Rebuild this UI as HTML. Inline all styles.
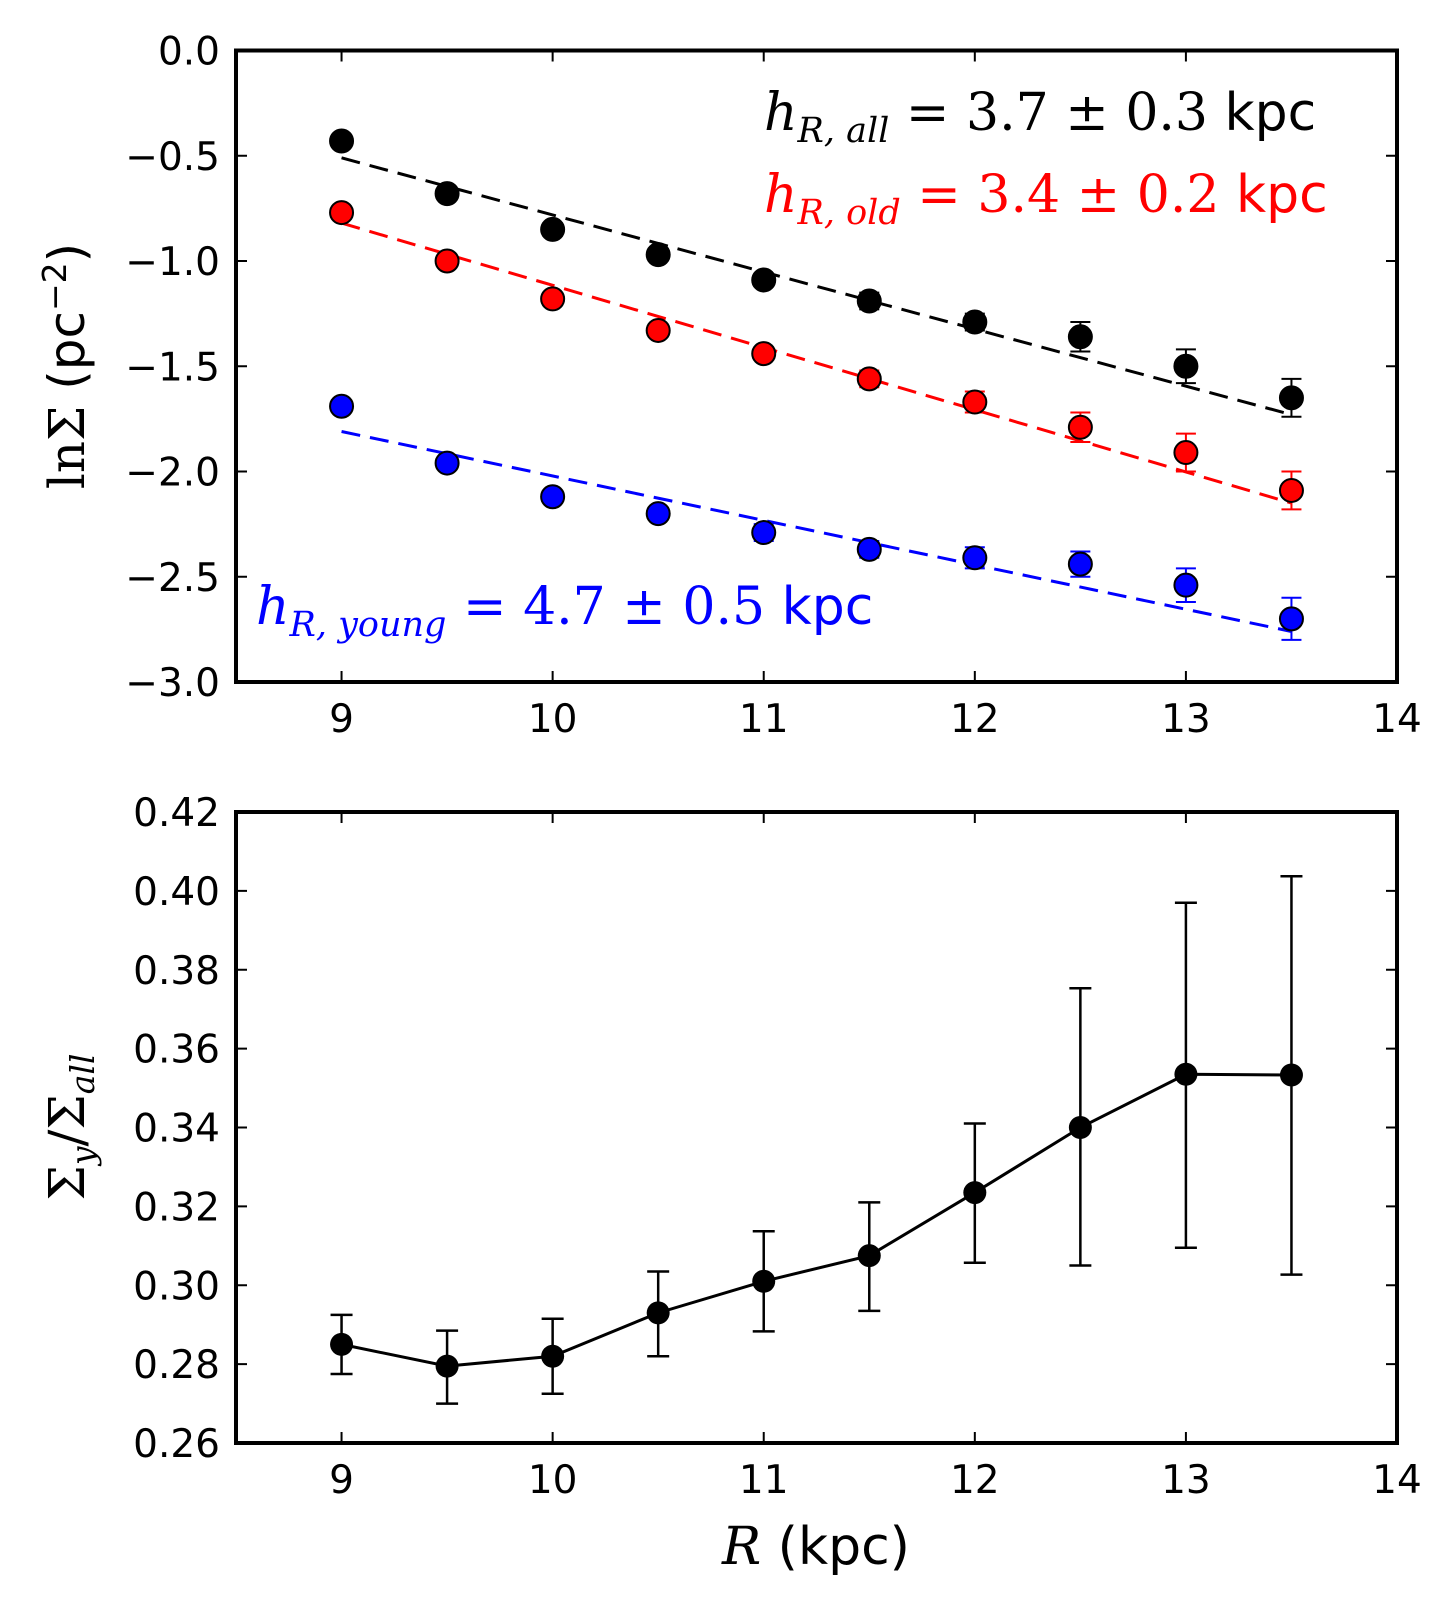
<!DOCTYPE html>
<html><head><meta charset="utf-8"><style>
body{margin:0;background:#fff}
text{font-family:"DejaVu Sans","Liberation Sans",sans-serif}
.m{font-family:"DejaVu Serif","Liberation Serif",serif;font-style:italic}
.n{font-family:"DejaVu Serif","Liberation Serif",serif;font-style:normal}
</style></head><body>
<svg id="c" width="1454" height="1613" xmlns="http://www.w3.org/2000/svg"></svg>
<script>
const radii=[9,9.5,10,10.5,11,11.5,12,12.5,13,13.5];
const allVals=[-0.43,-0.68,-0.85,-0.97,-1.09,-1.19,-1.29,-1.36,-1.50,-1.65];
const allErr=[0.02,0.02,0.03,0.03,0.03,0.04,0.04,0.07,0.08,0.09];
const oldVals=[-0.77,-1.00,-1.18,-1.33,-1.44,-1.56,-1.67,-1.79,-1.91,-2.09];
const oldErr=[0.02,0.02,0.03,0.03,0.03,0.04,0.05,0.07,0.09,0.09];
const youngVals=[-1.69,-1.96,-2.12,-2.20,-2.29,-2.37,-2.41,-2.44,-2.54,-2.70];
const youngErr=[0.02,0.03,0.03,0.03,0.04,0.04,0.05,0.06,0.08,0.10];
const allFit=[-0.51,-1.73];
const oldFit=[-0.82,-2.15];
const youngFit=[-1.81,-2.76];
const ratioVals=[0.285,0.2795,0.282,0.293,0.301,0.3075,0.3235,0.340,0.3535,0.3533];
const ratioHi=[0.2925,0.2885,0.2915,0.3035,0.3137,0.321,0.341,0.3753,0.397,0.4037];
const ratioLo=[0.2775,0.270,0.2725,0.282,0.2883,0.2935,0.3057,0.305,0.3095,0.3027];
const xTicks=[9,10,11,12,13,14];
const yTicksTop=[0,-0.5,-1,-1.5,-2,-2.5,-3];
const yTicksBot=[0.26,0.28,0.30,0.32,0.34,0.36,0.38,0.40,0.42];

const svg=document.getElementById('c');const NS='http://www.w3.org/2000/svg';
function el(t,a,p){const e=document.createElementNS(NS,t);for(const k in a)e.setAttribute(k,a[k]);(p||svg).appendChild(e);return e;}
const L=236,R=1397,T1=50.5,B1=682,T2=812,B2=1443;
const X=v=>L+(v-8.5)*((R-L)/5.5);
const Yt=v=>T1+(0-v)*((B1-T1)/3);
const Yb=v=>B2-(v-0.26)*((B2-T2)/0.16);

function axes(top,bot,ticks,Y,fmt,name){
  const g=el('g',{});
  
  
  el('rect',{x:L,y:top,width:R-L,height:bot-top,fill:'none',stroke:'#000','stroke-width':4},g);
  xTicks.forEach(t=>{const x=X(t);
    el('line',{x1:x,x2:x,y1:bot,y2:bot-11,stroke:'#000','stroke-width':2},g);
    el('line',{x1:x,x2:x,y1:top,y2:top+11,stroke:'#000','stroke-width':2},g);
    const tx=el('text',{x:x,y:bot+50,'font-size':39,'text-anchor':'middle'},g);tx.textContent=t;
    
    });
  ticks.forEach(t=>{const y=Y(t);
    el('line',{x1:L,x2:L+11,y1:y,y2:y,stroke:'#000','stroke-width':2},g);
    el('line',{x1:R,x2:R-11,y1:y,y2:y,stroke:'#000','stroke-width':2},g);
    const tx=el('text',{x:L-16,y:y+14,'font-size':39,'text-anchor':'end'},g);tx.textContent=fmt(t);
    
    });
}
axes(T1,B1,yTicksTop,Yt,t=>(t<0?'\u2212':'')+Math.abs(t).toFixed(1),'top-axes');
axes(T2,B2,yTicksBot,Yb,t=>t.toFixed(2),'bottom-axes');

function series(vals,errs,fit,color,name){
  const g=el('g',{});
  
  
  const fl=el('line',{x1:X(9),y1:Yt(fit[0]),x2:X(13.5),y2:Yt(fit[1]),stroke:color,'stroke-width':3,'stroke-dasharray':'19,10'},g);
  
  
  radii.forEach((r,i)=>{const x=X(r);
    el('line',{x1:x,x2:x,y1:Yt(vals[i]+errs[i]),y2:Yt(vals[i]-errs[i]),stroke:color,'stroke-width':2},g);
    el('line',{x1:x-10,x2:x+10,y1:Yt(vals[i]+errs[i]),y2:Yt(vals[i]+errs[i]),stroke:color,'stroke-width':2},g);
    el('line',{x1:x-10,x2:x+10,y1:Yt(vals[i]-errs[i]),y2:Yt(vals[i]-errs[i]),stroke:color,'stroke-width':2},g);
    const c=el('circle',{cx:x,cy:Yt(vals[i]),r:11.5,fill:color,stroke:'#000','stroke-width':2},g);
    
    });
}
series(allVals,allErr,allFit,'#000','all-series');
series(oldVals,oldErr,oldFit,'#f00','old-series');
series(youngVals,youngErr,youngFit,'#00f','young-series');

function label(x,y,color,sub,val,name){
  const t=el('text',{x:x,y:y,fill:color,'font-size':52});
  
  
  t.innerHTML='<tspan class="m">h</tspan><tspan class="m" font-size="35" dy="12">R, '+sub+'</tspan><tspan class="n" dy="-12"> = '+val+'</tspan><tspan> kpc</tspan>';
}
label(764,130,'#000','all','3.7 \u00b1 0.3','label-all');
label(764,212,'#f00','old','3.4 \u00b1 0.2','label-old');
label(256,624,'#00f','young','4.7 \u00b1 0.5','label-young');

const yl=el('text',{x:0,y:0,'font-size':50,'text-anchor':'middle',transform:'translate(84,366) rotate(-90)'});


yl.innerHTML='<tspan class="n">ln\u03a3</tspan> (pc<tspan font-size="33" dy="-18">\u22122</tspan><tspan dy="18">)</tspan>';

const gb=el('g',{});


el('polyline',{points:radii.map((r,i)=>X(r)+','+Yb(ratioVals[i])).join(' '),fill:'none',stroke:'#000','stroke-width':3},gb);
radii.forEach((r,i)=>{const x=X(r);
  el('line',{x1:x,x2:x,y1:Yb(ratioHi[i]),y2:Yb(ratioLo[i]),stroke:'#000','stroke-width':2.5},gb);
  el('line',{x1:x-11,x2:x+11,y1:Yb(ratioHi[i]),y2:Yb(ratioHi[i]),stroke:'#000','stroke-width':2.5},gb);
  el('line',{x1:x-11,x2:x+11,y1:Yb(ratioLo[i]),y2:Yb(ratioLo[i]),stroke:'#000','stroke-width':2.5},gb);
  const c=el('circle',{cx:x,cy:Yb(ratioVals[i]),r:11.5,fill:'#000'},gb);
  
  });

const yl2=el('text',{x:0,y:0,'font-size':50,'text-anchor':'middle',transform:'translate(84,1127) rotate(-90)'});


yl2.innerHTML='<tspan class="n">\u03a3</tspan><tspan class="m" font-size="33" dy="10">y</tspan><tspan class="n" dy="-10">/\u03a3</tspan><tspan class="m" font-size="33" dy="10">all</tspan>';

const xl=el('text',{x:816,y:1564,'font-size':52,'text-anchor':'middle'});


xl.innerHTML='<tspan class="m">R</tspan> (kpc)';
</script>
</body></html>
